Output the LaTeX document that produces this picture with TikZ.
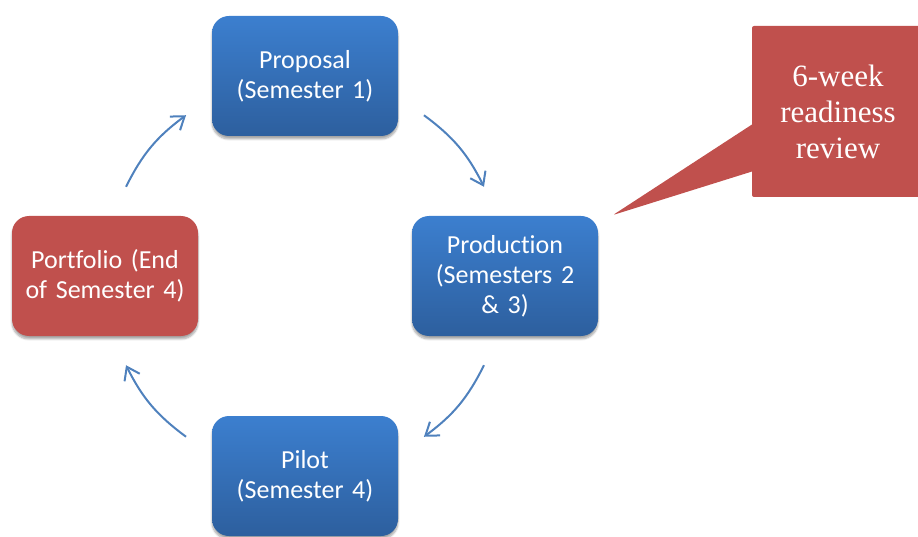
\documentclass[tikz,border=0pt]{standalone}
\usepackage{fontspec}
\setmainfont{Carlito}[Ligatures=NoCommon]
\newfontfamily\reviewfont{Liberation Serif}
\usepackage{tikz}
\usetikzlibrary{calc, arrows.meta, shapes.callouts, shadows.blur}
\usepackage{xcolor}
\definecolor{stageA}{RGB}{60, 127, 207}
\definecolor{stageB}{RGB}{45, 95, 158}
\definecolor{stageC}{RGB}{192, 80, 77}
\definecolor{flow}{RGB}{79, 129, 189}

\begin{document}
\begin{tikzpicture}[x=1pt, y=1pt, font=\fontsize{26}{30}\selectfont,
  stage/.style={rounded corners=17pt, minimum width=186pt, minimum height=120pt,
    text width=176pt, align=center, text=white,
    blur shadow={shadow xshift=0pt, shadow yshift=-3pt, shadow blur steps=6, shadow opacity=35}},
  bluestage/.style={stage, top color=stageA, bottom color=stageB},
  redstage/.style={stage, fill=stageC},
  loopflow/.style={flow, line width=2pt, -{Straight Barb[length=12pt, width=17pt]}},
  readiness/.style={rectangle callout, fill=stageC, text=white, rounded corners=2pt,
    minimum width=172pt, minimum height=171pt, align=center,
    font=\reviewfont\fontsize{31}{36}\selectfont, callout pointer width=47pt}]
  \useasboundingbox (0,0) rectangle (918,536);

  % the four stages
  \coordinate (hub) at (305,260);
  \node[bluestage] (proposal) at (305,460) {Proposal\\(Semester 1)};
  \node[bluestage] (production) at (505,260) {Production\\(Semesters 2\\\& 3)};
  \node[bluestage] (pilot) at (305,60) {Pilot\\(Semester 4)};
  \node[redstage] (portfolio) at (105,260) {Portfolio (End\\of Semester 4)};

  % arrows round the cycle
  \foreach \s/\e [count=\i] in {153.5/126.5, 53.5/26.5, -26.5/-53.5, -126.5/-153.5} {
    \coordinate (from\i) at ($(hub)+(\s:200)$);
    \coordinate (to\i) at ($(hub)+(\e:200)$);
    \draw[loopflow] (from\i) to[bend left=13.5] (to\i);
  }

  % review callout
  \coordinate (tip) at (613,321);
  \node[readiness, callout absolute pointer=(tip)] (review) at (838,424.5)
    {6-week\\readiness\\review};
\end{tikzpicture}
\end{document}
